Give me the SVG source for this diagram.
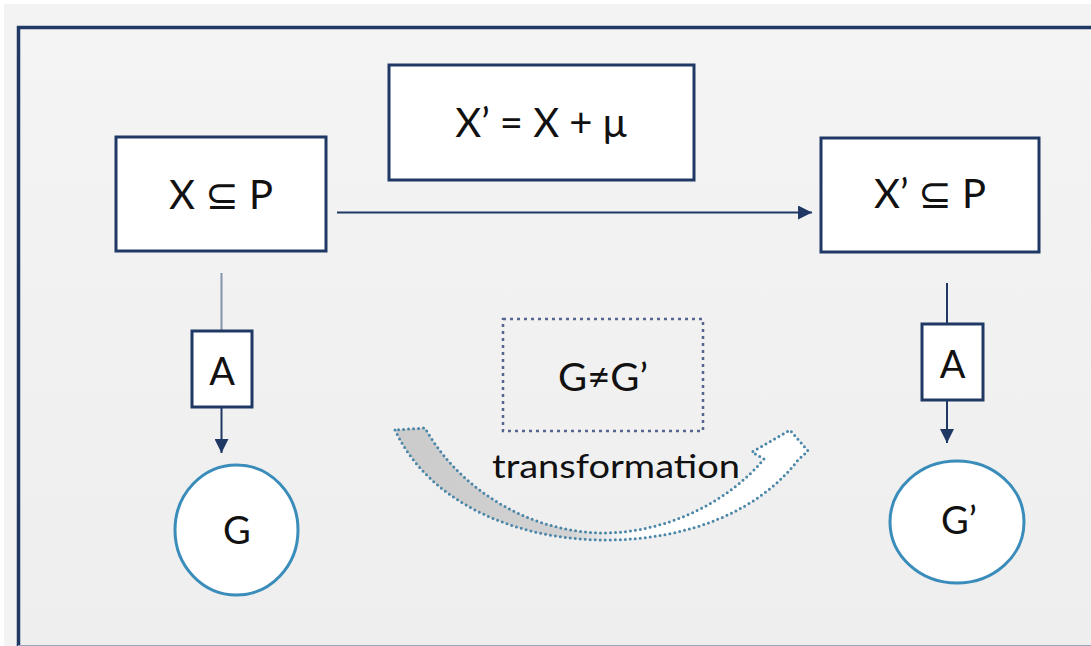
<svg xmlns="http://www.w3.org/2000/svg" width="1091" height="646" viewBox="0 0 1091 646">
  <defs>
    <linearGradient id="panelFill" x1="0" y1="0" x2="0" y2="1">
      <stop offset="0" stop-color="#f4f4f4"/>
      <stop offset="1" stop-color="#eeeeee"/>
    </linearGradient>
    <linearGradient id="bandFill" x1="395" y1="0" x2="808" y2="0" gradientUnits="userSpaceOnUse">
      <stop offset="0" stop-color="#cbcbcb"/>
      <stop offset="0.42" stop-color="#d2d2d2"/>
      <stop offset="0.58" stop-color="#ffffff"/>
      <stop offset="1" stop-color="#ffffff"/>
    </linearGradient>
    <marker id="arrowHead" markerUnits="userSpaceOnUse" viewBox="0 0 14 14" refX="14" refY="7" markerWidth="14" markerHeight="14" orient="auto">
      <path d="M0,0 L14,7 L0,14 Z" fill="#1f3864"/>
    </marker>
    <style>
      .box { fill: #ffffff; stroke: #1f3864; stroke-width: 3; }
      .circle { fill: #ffffff; stroke: #3a8cba; stroke-width: 3; }
      .label { font-family: Lato, "Liberation Sans", "DejaVu Sans", sans-serif; fill: #111111; text-anchor: middle; }
      .big { font-size: 40px; }
      .mid { font-size: 38px; }
      .conn { stroke: #1f3864; stroke-width: 2; fill: none; }
      .conn-light { stroke: #8593ad; stroke-width: 2; fill: none; }
      .dotted { fill: none; stroke: #56668e; stroke-width: 2.5; stroke-dasharray: 3 4; }
      .band { fill: url(#bandFill); stroke: #4a86a8; stroke-width: 3; stroke-dasharray: 0 5; stroke-linecap: round; stroke-linejoin: round; }
    </style>
  </defs>

  <!-- page background and framed panel -->
  <rect x="0" y="0" width="1091" height="646" fill="#ffffff"/>
  <rect x="4" y="4" width="1087" height="642" fill="#f3f3f3"/>
  <rect x="18.5" y="27.5" width="1090" height="630" fill="url(#panelFill)" stroke="#1f3864" stroke-width="3.5"/>
  <line x1="18" y1="645.5" x2="1091" y2="645.5" stroke="#9aa5bb" stroke-width="1"/>

  <!-- connectors -->
  <g id="connectors">
    <line class="conn" x1="337" y1="212.5" x2="812" y2="212.5" marker-end="url(#arrowHead)"/>
    <line class="conn-light" x1="221.5" y1="273" x2="221.5" y2="331"/>
    <line class="conn" x1="221.5" y1="407" x2="221.5" y2="453" marker-end="url(#arrowHead)"/>
    <line class="conn" x1="947" y1="283" x2="947" y2="324"/>
    <line class="conn" x1="947" y1="400" x2="947" y2="443" marker-end="url(#arrowHead)"/>
  </g>

  <!-- curved transformation arrow -->
  <g id="transformation">
    <path class="band" d="M395,430 C430,505 520,540 605,540 C690,540 760,510 798,460 L808,451 L790,430 L752,452 L764,459 C730,500 670,532 605,533 C530,533 460,490 425,428 Z"/>
    <text class="label" x="616" y="478" font-size="32" textLength="248" lengthAdjust="spacingAndGlyphs">transformation</text>
  </g>

  <g id="node-x">
    <rect class="box" x="116" y="137" width="210" height="114"/>
    <text class="label big" x="221" y="209">X ⊆ P</text>
  </g>

  <g id="node-formula">
    <rect class="box" x="389" y="65" width="305" height="115"/>
    <text class="label big" x="541" y="137">X’ = X + μ</text>
  </g>

  <g id="node-x-prime">
    <rect class="box" x="821" y="138" width="218" height="114"/>
    <text class="label big" x="930" y="208">X’ ⊆ P</text>
  </g>

  <g id="node-a-left">
    <rect class="box" x="192" y="331" width="60" height="76"/>
    <text class="label mid" x="222" y="385">A</text>
  </g>

  <g id="node-a-right">
    <rect class="box" x="922" y="324" width="61" height="76"/>
    <text class="label mid" x="952.5" y="378">A</text>
  </g>

  <g id="node-g">
    <ellipse class="circle" cx="236.5" cy="530" rx="61.5" ry="65"/>
    <text class="label mid" x="237" y="544">G</text>
  </g>

  <g id="node-g-prime">
    <ellipse class="circle" cx="957" cy="522" rx="67" ry="61"/>
    <text class="label mid" x="959" y="534">G’</text>
  </g>

  <g id="node-inequality">
    <rect class="dotted" x="503" y="319" width="200" height="112"/>
    <text class="label" x="603" y="391" font-size="38" textLength="90" lengthAdjust="spacingAndGlyphs">G≠G’</text>
  </g>
</svg>
